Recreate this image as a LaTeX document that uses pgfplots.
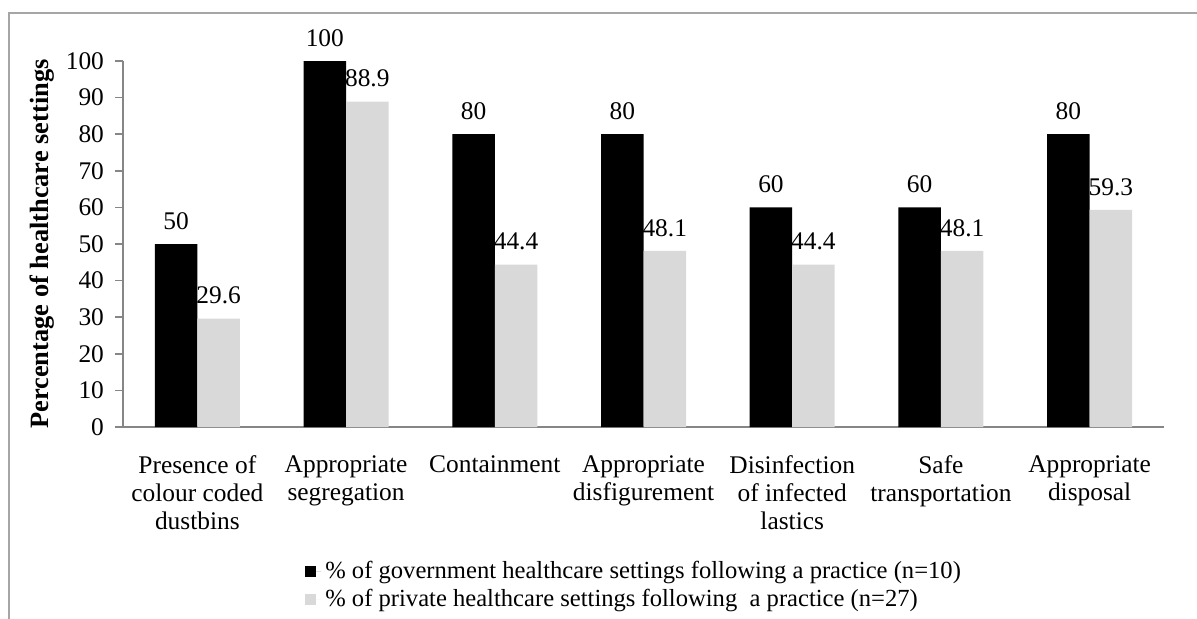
\documentclass[border=0pt]{standalone}
\usepackage{pgfplots}
\pgfplotsset{compat=1.18}
\usepackage{fontspec}
\setmainfont{Liberation Serif}
\definecolor{lgray}{HTML}{D9D9D9}
\definecolor{axgray}{HTML}{868686}
\definecolor{framegray}{HTML}{A6A6A6}
\begin{document}
\begin{tikzpicture}
\useasboundingbox (0,0) rectangle (598.5pt,309pt);
\draw[framegray, line width=0.9pt] (4.5pt,-2pt) -- (4.5pt,302.5pt) -- (602pt,302.5pt);
\begin{axis}[
  at={(61.5pt,95.5pt)}, anchor=south west,
  scale only axis, width=520.5pt, height=183pt,
  xmin=0, xmax=7, ymin=0, ymax=100,
  clip=false,
  axis x line*=bottom, axis y line*=left,
  axis line style={axgray, line width=0.8pt, -},
  ybar=0pt, bar width=21.25pt,
  ytick={0,10,...,100},
  xtick={0.5,1.5,2.5,3.5,4.5,5.5,6.5},
  xticklabels={{Presence of\\colour coded\\dustbins},{Appropriate\\segregation},{Containment},{Appropriate\\disfigurement},{Disinfection\\of infected\\lastics},{Safe\\transportation},{Appropriate\\disposal}},
  minor xtick={0,1,2,3,4,5,6,7},
  xtick style={draw=none},
  minor tick style={axgray, line width=0.8pt},
  ytick style={axgray, line width=0.8pt},
  tick align=outside,
  major tick length=4pt, minor tick length=3.5pt,
  /pgf/number format/assume math mode=true,
  ticklabel style={font=\fontsize{12.7}{13.9}\selectfont},
  xticklabel style={align=center, anchor=north, yshift=-7pt},
  yticklabel style={xshift=-2pt},
  ylabel={\textbf{Percentage of healthcare settings}},
  ylabel style={font=\fontsize{13.2}{15}\selectfont, at={(axis description cs:-0.0778,0.5)}, anchor=center},
  nodes near coords,
  every node near coord/.append style={font=\fontsize{12.7}{14}\selectfont, anchor=south, inner sep=0pt, yshift=7pt, black},
  legend style={at={(0.1748,-0.355)}, anchor=north west, draw=none, fill=none,
    font=\fontsize{12.3}{13.5}\selectfont, row sep=0pt, inner sep=0pt, legend cell align=left},
  legend image code/.code={\fill[#1] (0pt,-2.75pt) rectangle (5.5pt,2.75pt); \path (0pt,0pt) -- (8pt,0pt);},
]
\addplot[fill=black, draw=none] coordinates {(0.5,50) (1.5,100) (2.5,80) (3.5,80) (4.5,60) (5.5,60) (6.5,80)};
\addplot[fill=lgray, draw=none] coordinates {(0.5,29.6) (1.5,88.9) (2.5,44.4) (3.5,48.1) (4.5,44.4) (5.5,48.1) (6.5,59.3)};
\legend{\% of government healthcare settings following a practice (n=10), \% of private healthcare settings following~ a practice (n=27)}
\end{axis}
\end{tikzpicture}
\end{document}
